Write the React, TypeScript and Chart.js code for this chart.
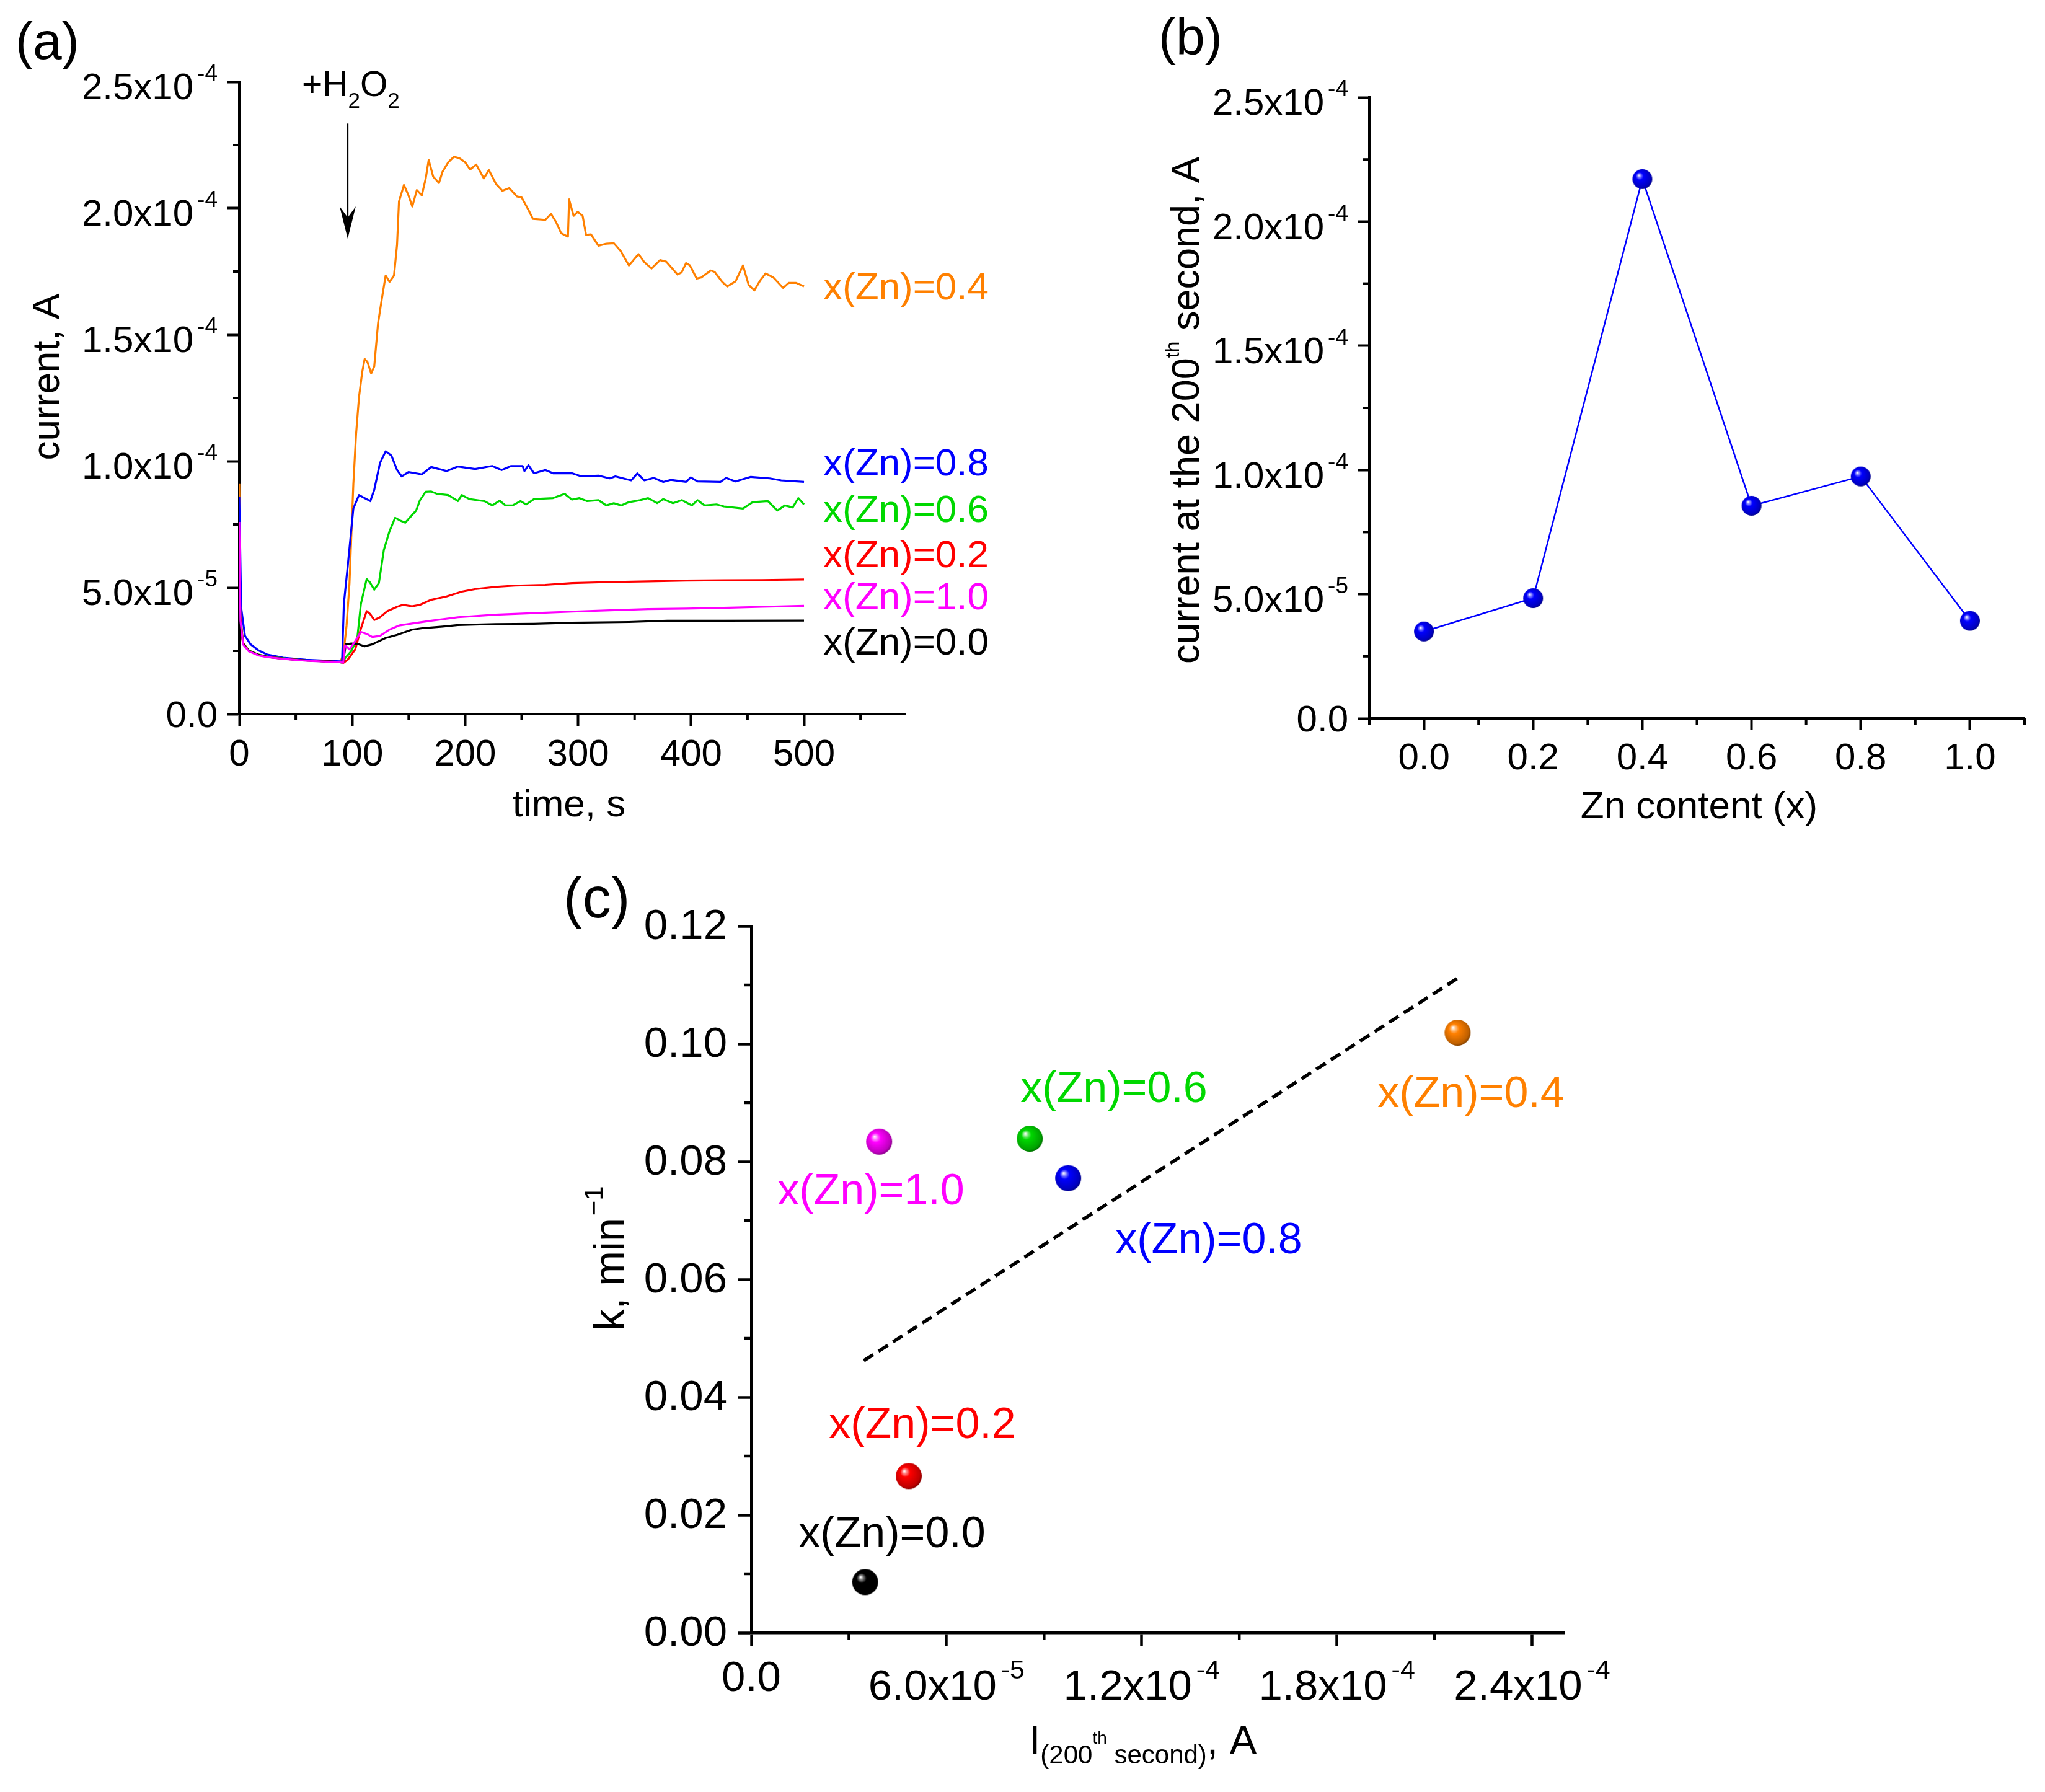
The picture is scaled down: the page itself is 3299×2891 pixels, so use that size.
import React, { useEffect, useRef } from "react";
import { Chart, registerables } from "chart.js";

Chart.register(...registerables);

const W = 3299;
const H = 2891;
const FONT = '"Liberation Sans", Arial, Helvetica, sans-serif';

const ORANGE = "#FF8000";
const BLUE = "#0000FF";
const GREEN = "#00D800";
const RED = "#FF0000";
const MAGENTA = "#FF00FF";
const BLACK = "#000000";

// ---- panel (a): chronoamperometry, [time s, current in 1e-5 A]
const curve04: [number, number][] = [
  [0, 9.1], [1, 4.0], [3, 2.85], [8, 2.52], [17, 2.35], [25, 2.27], [42, 2.19], [59, 2.12], [75, 2.09], [89, 2.05],
  [92, 2.3], [95, 3.5], [97.6, 5.18], [101, 9.1], [103.4, 11.07], [106, 12.53], [108.8, 13.51], [111, 14.04],
  [113.5, 13.92], [116.8, 13.47], [119.5, 13.75], [122.9, 15.46], [126.3, 16.44], [129.6, 17.34], [133, 17.09],
  [137, 17.34], [139.7, 18.56], [141.4, 20.27], [145.8, 20.92], [149.8, 20.51], [153.2, 20.07], [157.2, 20.72],
  [161.6, 20.51], [165, 21.16], [167.7, 21.91], [171.7, 21.25], [176.8, 21.0], [180, 21.45], [185, 21.82],
  [190, 22.04], [195, 21.98], [200, 21.82], [204.4, 21.53], [209.8, 21.73], [216.5, 21.18], [221, 21.51],
  [227.3, 20.96], [233, 20.69], [239, 20.8], [245.8, 20.47], [250, 20.43], [256, 19.94], [260, 19.58],
  [271, 19.54], [276, 19.78], [280.5, 19.45], [285, 19.01], [291, 18.88], [292, 20.35], [296, 19.7],
  [299.7, 19.86], [304, 19.7], [307, 18.95], [311.4, 18.97], [318, 18.52], [325, 18.6], [331.6, 18.62],
  [337.7, 18.31], [345, 17.74], [353.5, 18.19], [358.6, 17.87], [365, 17.62], [372.6, 17.95], [378, 17.89],
  [388, 17.38], [391.6, 17.46], [395.6, 17.83], [399, 17.74], [405, 17.22], [409, 17.26], [417.5, 17.54],
  [420.9, 17.48], [427.6, 17.09], [432, 16.91], [439.4, 17.11], [446, 17.74], [451, 16.97], [456, 16.75],
  [461, 17.13], [466, 17.42], [473, 17.26], [481.5, 16.85], [486.5, 17.05], [493, 17.05], [500, 16.91],
];
const curve08: [number, number][] = [
  [0, 8.6], [1.7, 4.2], [5, 3.1], [10, 2.76], [17, 2.52], [25, 2.35], [39, 2.23], [59, 2.15], [89, 2.09],
  [91, 2.07], [92.6, 4.36], [96, 5.84], [101, 8.13], [106, 8.66], [111, 8.54], [116, 8.42], [119.5, 8.87],
  [124.6, 9.93], [129.6, 10.39], [134.7, 10.22], [139.7, 9.65], [143.8, 9.4], [149.8, 9.57], [161.6, 9.48],
  [170, 9.77], [183.5, 9.61], [193.6, 9.79], [208.8, 9.69], [223.9, 9.81], [232.3, 9.65], [240.7, 9.81],
  [250.8, 9.81], [252.5, 9.61], [256, 9.84], [261, 9.52], [271, 9.65], [277.8, 9.52], [294.6, 9.52],
  [303, 9.4], [318, 9.43], [328, 9.32], [333, 9.4], [347, 9.24], [352.5, 9.52], [358.6, 9.24], [367, 9.34],
  [375.4, 9.18], [382, 9.26], [395.6, 9.18], [399.7, 9.36], [405.7, 9.2], [426, 9.18], [431, 9.34],
  [439.4, 9.2], [452.9, 9.38], [469.7, 9.32], [479.8, 9.24], [500, 9.18],
];
const curve06: [number, number][] = [
  [0, 5.5], [1, 3.8], [3.4, 2.8], [8.4, 2.52], [17, 2.35], [25, 2.27], [42, 2.19], [59, 2.12], [89, 2.05],
  [91, 2.03], [94, 2.23], [99, 2.48], [104.4, 2.97], [107.7, 4.36], [112.8, 5.34], [115.5, 5.22], [119.5, 4.92],
  [123.6, 5.18], [128, 6.49], [133, 7.23], [138, 7.76], [143, 7.64], [147, 7.57], [156.6, 8.05], [160, 8.46],
  [165, 8.79], [170, 8.8], [175, 8.71], [185, 8.66], [193.6, 8.42], [197, 8.66], [203.7, 8.5], [217, 8.42],
  [224, 8.25], [230.6, 8.44], [235.7, 8.25], [242, 8.25], [249, 8.42], [254, 8.29], [261, 8.5], [277.8, 8.54],
  [288, 8.71], [294.6, 8.48], [301, 8.54], [308, 8.42], [318, 8.46], [325, 8.25], [331.6, 8.34], [338, 8.25],
  [345, 8.38], [355, 8.46], [362, 8.54], [370, 8.34], [375.4, 8.5], [384, 8.34], [392, 8.46], [400.7, 8.25],
  [405.7, 8.46], [412, 8.25], [422.6, 8.29], [429, 8.21], [446, 8.13], [454.5, 8.38], [468, 8.42],
  [476.4, 8.05], [483, 8.25], [490, 8.17], [495, 8.54], [500, 8.29],
];
const curve02: [number, number][] = [
  [0, 6.0], [1, 3.8], [3.4, 2.8], [8.4, 2.5], [17, 2.33], [25, 2.26], [42, 2.18], [59, 2.12], [89, 2.06],
  [92, 2.02], [96, 2.15], [102.7, 2.56], [107.7, 3.38], [112.8, 4.07], [116, 3.95], [119.5, 3.72], [124.6, 3.83],
  [131, 4.07], [139.7, 4.24], [144.8, 4.32], [153, 4.26], [160, 4.32], [170, 4.52], [183.5, 4.65], [197, 4.84],
  [210, 4.95], [227, 5.03], [244, 5.08], [271, 5.11], [294.6, 5.18], [328, 5.22], [362, 5.25], [395.6, 5.28],
  [429, 5.29], [463, 5.3], [500, 5.32],
];
const curve10: [number, number][] = [
  [0, 7.6], [1, 3.7], [3.4, 2.75], [8.4, 2.48], [17, 2.32], [25, 2.25], [42, 2.17], [59, 2.11], [89, 2.05],
  [92, 2.03], [93.6, 2.72], [97.6, 2.56], [102.7, 2.89], [107.7, 3.25], [112.8, 3.17], [117.8, 3.05],
  [124.6, 3.09], [133, 3.34], [141.4, 3.5], [153, 3.58], [170, 3.69], [193.6, 3.83], [227, 3.93], [261, 3.99],
  [294.6, 4.05], [328, 4.1], [362, 4.15], [395.6, 4.17], [429, 4.2], [463, 4.24], [500, 4.28],
];
const curve00: [number, number][] = [
  [0, 5.0], [1, 3.6], [3.4, 2.78], [8.4, 2.5], [17, 2.34], [25, 2.26], [42, 2.18], [59, 2.12], [89, 2.06],
  [92, 2.05], [94.3, 2.76], [99.3, 2.79], [106, 2.76], [111, 2.68], [117.8, 2.76], [129.6, 3.01], [139.7, 3.13],
  [153, 3.34], [163, 3.4], [180, 3.46], [193.6, 3.52], [227, 3.56], [261, 3.57], [294.6, 3.61], [345, 3.64],
  [379, 3.69], [429, 3.69], [500, 3.7],
];

const aTimeTicks = [0, 100, 200, 300, 400, 500];
const aTimeMinor = [50, 150, 250, 350, 450, 550];
const aCurTicks = [0, 5e-5, 1e-4, 1.5e-4, 2e-4, 2.5e-4];
const aCurMinor = [2.5e-5, 7.5e-5, 1.25e-4, 1.75e-4, 2.25e-4];
const h2o2Arrow = { t: 96, from: 2.335e-4, to: 1.88e-4 };

// ---- panel (b) and (c)
const zn = [0, 0.2, 0.4, 0.6, 0.8, 1.0];
const i200 = [3.5e-5, 4.84e-5, 2.171e-4, 8.56e-5, 9.74e-5, 3.93e-5];
const kRate = [0.0086, 0.0266, 0.1019, 0.0839, 0.0772, 0.0834];
const pointColors = [BLACK, RED, ORANGE, GREEN, BLUE, MAGENTA];
const fitI = [3.46e-5, 2.17e-4];
const fitK = [0.0462, 0.1111];

const bZnTicks = [0, 0.2, 0.4, 0.6, 0.8, 1.0];
const bZnMinor = [-0.1, 0.1, 0.3, 0.5, 0.7, 0.9, 1.1];
const cITicks = [0, 6e-5, 1.2e-4, 1.8e-4, 2.4e-4];
const cIMinor = [3e-5, 9e-5, 1.5e-4, 2.1e-4];
const cKTicks = [0, 0.02, 0.04, 0.06, 0.08, 0.1, 0.12];
const cKMinor = [0.01, 0.03, 0.05, 0.07, 0.09, 0.11];

// ---- text helpers
type Run = { t: string; size: number; dy?: number; gap?: number };

const font = (s: number) => `${s}px ${FONT}`;

function runsWidth(ctx: CanvasRenderingContext2D, runs: Run[]) {
  let w = 0;
  for (const r of runs) {
    ctx.font = font(r.size);
    w += (r.gap ?? 0) + ctx.measureText(r.t).width;
  }
  return w;
}

function drawRuns(
  ctx: CanvasRenderingContext2D,
  runs: Run[],
  x: number,
  y: number,
  align: "left" | "center" | "right",
  color = BLACK
) {
  const w = runsWidth(ctx, runs);
  let cx = align === "left" ? x : align === "right" ? x - w : x - w / 2;
  ctx.fillStyle = color;
  ctx.textAlign = "left";
  ctx.textBaseline = "alphabetic";
  for (const r of runs) {
    ctx.font = font(r.size);
    cx += r.gap ?? 0;
    ctx.fillText(r.t, cx, y + (r.dy ?? 0));
    cx += ctx.measureText(r.t).width;
  }
}

function drawRotated(ctx: CanvasRenderingContext2D, runs: Run[], baseX: number, centerY: number) {
  ctx.save();
  ctx.translate(baseX, centerY);
  ctx.rotate(-Math.PI / 2);
  drawRuns(ctx, runs, 0, 0, "center");
  ctx.restore();
}

function sciRuns(v: number, size: number, zeroText: string): Run[] {
  if (v === 0) return [{ t: zeroText, size }];
  const e = Math.floor(Math.log10(v) + 1e-9);
  const m = v / Math.pow(10, e);
  return [
    { t: m.toFixed(1) + "x10", size },
    { t: String(e), size: Math.round(size * 0.62), dy: -size * 0.5, gap: size * 0.1 },
  ];
}

function minorX(ctx: CanvasRenderingContext2D, scale: any, vals: number[], y0: number, len: number) {
  for (const v of vals) {
    const p = scale.getPixelForValue(v);
    ctx.beginPath();
    ctx.moveTo(p, y0);
    ctx.lineTo(p, y0 + len);
    ctx.stroke();
  }
}

function minorY(ctx: CanvasRenderingContext2D, scale: any, vals: number[], x0: number, len: number) {
  for (const v of vals) {
    const p = scale.getPixelForValue(v);
    ctx.beginPath();
    ctx.moveTo(x0 - len, p);
    ctx.lineTo(x0, p);
    ctx.stroke();
  }
}

function hexRgb(c: string) {
  return [1, 3, 5].map((i) => parseInt(c.slice(i, i + 2), 16));
}
function mix(c: string, t: string, f: number) {
  const a = hexRgb(c);
  const b = hexRgb(t);
  const m = a.map((v, i) => Math.round(v + (b[i] - v) * f));
  return `rgb(${m[0]},${m[1]},${m[2]})`;
}

function makeBall(color: string, r: number) {
  const c = document.createElement("canvas");
  const s = Math.ceil(r * 2 + 2);
  c.width = s;
  c.height = s;
  const g = c.getContext("2d")!;
  const cx = s / 2;
  const cy = s / 2;
  const grad = g.createRadialGradient(cx - r * 0.35, cy - r * 0.38, r * 0.02, cx - r * 0.1, cy - r * 0.1, r * 1.15);
  grad.addColorStop(0, "#ffffff");
  grad.addColorStop(0.12, mix(color, "#ffffff", 0.55));
  grad.addColorStop(0.32, color);
  grad.addColorStop(0.85, mix(color, "#000000", 0.25));
  grad.addColorStop(1, mix(color, "#000000", 0.5));
  g.fillStyle = grad;
  g.beginPath();
  g.arc(cx, cy, r, 0, Math.PI * 2);
  g.fill();
  return c;
}

// axis styling shared by all panels
function axis(min: number, max: number, ticks: number[], horizontal: boolean, lw: number, tl: number) {
  return {
    type: "linear" as const,
    min,
    max,
    ticks: { display: false },
    afterBuildTicks: (a: any) => {
      a.ticks = ticks.map((value) => ({ value }));
    },
    afterFit: (a: any) => {
      if (horizontal) a.height = 40;
      else a.width = 40;
    },
    grid: {
      drawOnChartArea: false,
      drawTicks: true,
      tickLength: tl,
      tickWidth: lw,
      tickColor: BLACK,
      color: BLACK,
    },
    border: { display: true, width: lw, color: BLACK },
  };
}

function baseOptions(box: { l: number; t: number; r: number; b: number }) {
  return {
    responsive: false,
    animation: false as const,
    devicePixelRatio: 1,
    events: [],
    layout: { padding: { left: box.l - 40, top: box.t, right: W - box.r, bottom: H - box.b - 40 } },
    plugins: { legend: { display: false }, tooltip: { enabled: false } },
  };
}

const aLabels = [
  { text: "x(Zn)=0.4", color: ORANGE, y: 483 },
  { text: "x(Zn)=0.8", color: BLUE, y: 767 },
  { text: "x(Zn)=0.6", color: GREEN, y: 842 },
  { text: "x(Zn)=0.2", color: RED, y: 915 },
  { text: "x(Zn)=1.0", color: MAGENTA, y: 983 },
  { text: "x(Zn)=0.0", color: BLACK, y: 1056 },
];

function renderA(canvas: HTMLCanvasElement) {
  const series = [
    { pts: curve10, color: MAGENTA },
    { pts: curve00, color: BLACK },
    { pts: curve02, color: RED },
    { pts: curve06, color: GREEN },
    { pts: curve08, color: BLUE },
    { pts: curve04, color: ORANGE },
  ];
  const decor = {
    id: "decorA",
    afterDraw(chart: any) {
      const { ctx, chartArea: a } = chart;
      const x = chart.scales.x;
      const y = chart.scales.y;
      ctx.save();
      ctx.strokeStyle = BLACK;
      ctx.lineWidth = 4;
      minorX(ctx, x, aTimeMinor, a.bottom, 10);
      minorY(ctx, y, aCurMinor, a.left, 10);
      aTimeTicks.forEach((v) => drawRuns(ctx, [{ t: String(v), size: 60 }], x.getPixelForValue(v), 1235, "center"));
      aCurTicks.forEach((v) =>
        drawRuns(ctx, sciRuns(v, 60, "0.0"), 351, y.getPixelForValue(v) + (v === 0 ? 0.358 : 0.472) * 60, "right")
      );
      drawRotated(ctx, [{ t: "current, A", size: 62 }], 95, 608);
      drawRuns(ctx, [{ t: "time, s", size: 62 }], 918, 1317, "center");
      drawRuns(ctx, [{ t: "(a)", size: 84 }], 25, 95, "left");
      // +H2O2 arrow
      const ax = x.getPixelForValue(h2o2Arrow.t);
      const top = y.getPixelForValue(h2o2Arrow.from);
      const tip = y.getPixelForValue(h2o2Arrow.to);
      ctx.lineWidth = 2.5;
      ctx.beginPath();
      ctx.moveTo(ax, top);
      ctx.lineTo(ax, tip - 30);
      ctx.stroke();
      ctx.fillStyle = BLACK;
      ctx.beginPath();
      ctx.moveTo(ax, tip);
      ctx.lineTo(ax - 13, tip - 52);
      ctx.lineTo(ax, tip - 34);
      ctx.lineTo(ax + 13, tip - 52);
      ctx.closePath();
      ctx.fill();
      drawRuns(
        ctx,
        [
          { t: "+H", size: 57 },
          { t: "2", size: 35, dy: 19 },
          { t: "O", size: 57 },
          { t: "2", size: 35, dy: 19 },
        ],
        ax + 5,
        155,
        "center"
      );
      aLabels.forEach((l) => drawRuns(ctx, [{ t: l.text, size: 62 }], 1328, l.y, "left", l.color));
      ctx.restore();
    },
  };
  return new Chart(canvas, {
    type: "line",
    data: {
      datasets: series.map((s) => ({
        data: s.pts.map(([t, v]) => ({ x: t, y: v * 1e-5 })),
        borderColor: s.color,
        borderWidth: 3.2,
        pointRadius: 0,
        tension: 0,
        fill: false,
        borderJoinStyle: "round" as const,
      })),
    },
    options: {
      ...baseOptions({ l: 386, t: 132, r: 1461, b: 1152 }),
      scales: {
        x: axis(0, 590, aTimeTicks, true, 4, 19),
        y: axis(0, 2.5e-4, aCurTicks, false, 4, 19),
      },
    } as any,
    plugins: [decor],
  });
}

function renderB(canvas: HTMLCanvasElement) {
  const ball = makeBall(BLUE, 16);
  const decor = {
    id: "decorB",
    afterDraw(chart: any) {
      const { ctx, chartArea: a } = chart;
      const x = chart.scales.x;
      const y = chart.scales.y;
      ctx.save();
      ctx.strokeStyle = BLACK;
      ctx.lineWidth = 4;
      minorX(ctx, x, bZnMinor, a.bottom, 10);
      minorY(ctx, y, aCurMinor, a.left, 10);
      bZnTicks.forEach((v) =>
        drawRuns(ctx, [{ t: v.toFixed(1), size: 60 }], x.getPixelForValue(v), 1241, "center")
      );
      aCurTicks.forEach((v) =>
        drawRuns(ctx, sciRuns(v, 60, "0.0"), 2175, y.getPixelForValue(v) + (v === 0 ? 0.358 : 0.472) * 60, "right")
      );
      drawRotated(
        ctx,
        [
          { t: "current at the 200", size: 63 },
          { t: "th", size: 32, dy: -32 },
          { t: " second, A", size: 63 },
        ],
        1934,
        662
      );
      drawRuns(ctx, [{ t: "Zn content (x)", size: 62 }], 2741, 1320, "center");
      drawRuns(ctx, [{ t: "(b)", size: 84 }], 1869, 88, "left");
      ctx.restore();
    },
  };
  return new Chart(canvas, {
    type: "line",
    data: {
      datasets: [
        {
          data: zn.map((z, i) => ({ x: z, y: i200[i] })),
          borderColor: BLUE,
          borderWidth: 2.5,
          pointStyle: ball,
          pointRadius: 16,
          tension: 0,
          fill: false,
        },
      ],
    },
    options: {
      ...baseOptions({ l: 2209, t: 157, r: 3266, b: 1159 }),
      scales: {
        x: axis(-0.1, 1.1, bZnTicks, true, 4, 19),
        y: axis(0, 2.5e-4, aCurTicks, false, 4, 19),
      },
    } as any,
    plugins: [decor],
  });
}

const cLabels = [
  { text: "x(Zn)=0.0", color: BLACK, x: 1439, y: 2496 },
  { text: "x(Zn)=0.2", color: RED, x: 1488, y: 2320 },
  { text: "x(Zn)=0.4", color: ORANGE, x: 2373, y: 1786 },
  { text: "x(Zn)=0.6", color: GREEN, x: 1797, y: 1778 },
  { text: "x(Zn)=0.8", color: BLUE, x: 1950, y: 2022 },
  { text: "x(Zn)=1.0", color: MAGENTA, x: 1405, y: 1943 },
];

function renderC(canvas: HTMLCanvasElement) {
  const balls = pointColors.map((c) => makeBall(c, 21));
  const decor = {
    id: "decorC",
    afterDraw(chart: any) {
      const { ctx, chartArea: a } = chart;
      const x = chart.scales.x;
      const y = chart.scales.y;
      ctx.save();
      ctx.strokeStyle = BLACK;
      ctx.lineWidth = 4.5;
      minorX(ctx, x, cIMinor, a.bottom, 12);
      minorY(ctx, y, cKMinor, a.left, 12);
      cITicks.forEach((v) =>
        drawRuns(ctx, sciRuns(v, 69, "0.0"), x.getPixelForValue(v), v === 0 ? 2728 : 2742, "center")
      );
      cKTicks.forEach((v) =>
        drawRuns(ctx, [{ t: v.toFixed(2), size: 69 }], 1173, y.getPixelForValue(v) + 21, "right")
      );
      drawRotated(
        ctx,
        [
          { t: "k, min", size: 68 },
          { t: "\u22121", size: 42, dy: -34, gap: 4 },
        ],
        1006,
        2030
      );
      drawRuns(
        ctx,
        [
          { t: "I", size: 66 },
          { t: "(200", size: 42, dy: 15 },
          { t: "th", size: 28, dy: -17 },
          { t: " second)", size: 42, dy: 15 },
          { t: ", A", size: 66 },
        ],
        1660,
        2830,
        "left"
      );
      drawRuns(ctx, [{ t: "(c)", size: 92 }], 909, 1480, "left");
      cLabels.forEach((l) => drawRuns(ctx, [{ t: l.text, size: 70 }], l.x, l.y, "center", l.color));
      ctx.restore();
    },
  };
  return new Chart(canvas, {
    type: "scatter",
    data: {
      datasets: [
        {
          data: i200.map((v, i) => ({ x: v, y: kRate[i] })),
          pointStyle: balls,
          pointRadius: 21,
          showLine: false,
        },
        {
          type: "line",
          data: fitI.map((v, i) => ({ x: v, y: fitK[i] })),
          borderColor: BLACK,
          borderWidth: 5.5,
          borderDash: [18, 10],
          pointRadius: 0,
          showLine: true,
          fill: false,
        },
      ],
    } as any,
    options: {
      ...baseOptions({ l: 1212, t: 1494, r: 2524, b: 2634 }),
      scales: {
        x: axis(0, 2.5e-4, cITicks, true, 4.5, 22),
        y: axis(0, 0.12, cKTicks, false, 4.5, 22),
      },
    } as any,
    plugins: [decor],
  });
}

function Panel({ render }: { render: (c: HTMLCanvasElement) => Chart }) {
  const ref = useRef<HTMLCanvasElement>(null);
  useEffect(() => {
    if (!ref.current) return;
    const chart = render(ref.current);
    return () => chart.destroy();
  }, []);
  return (
    <canvas
      ref={ref}
      width={W}
      height={H}
      style={{ position: "absolute", left: 0, top: 0, width: W, height: H }}
    />
  );
}

export default function App() {
  return (
    <div
      style={{
        position: "fixed",
        left: 0,
        top: 0,
        width: W,
        height: H,
        background: "#ffffff",
        overflow: "hidden",
      }}
    >
      <Panel render={renderA} />
      <Panel render={renderB} />
      <Panel render={renderC} />
    </div>
  );
}
